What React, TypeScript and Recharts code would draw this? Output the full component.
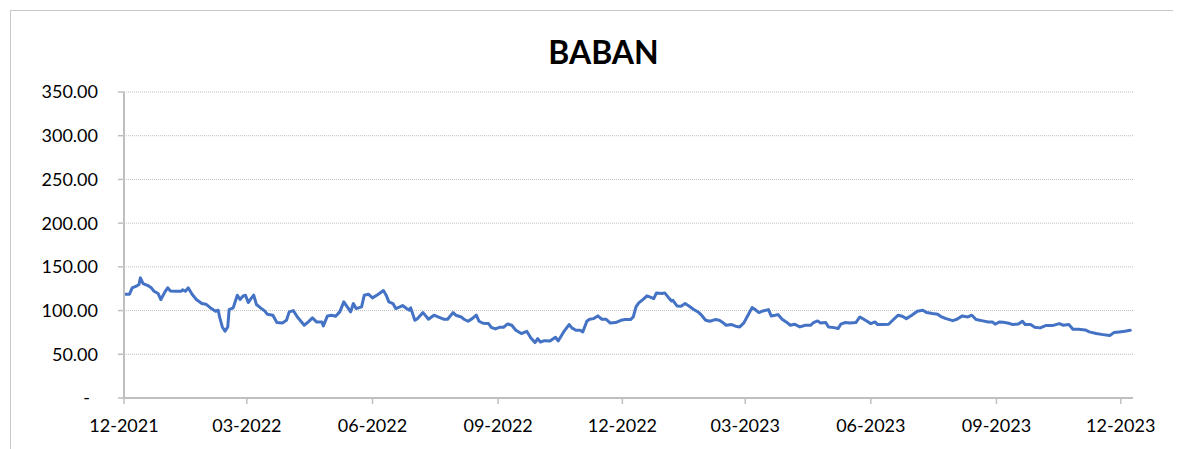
import React from "react";
import { LineChart, Line, XAxis, YAxis, CartesianGrid } from "recharts";

const TITLE = "BABAN";

const dates: string[] = [
  "2021-12-01","2021-12-05","2021-12-07","2021-12-10","2021-12-12","2021-12-13","2021-12-15","2021-12-19","2021-12-21","2021-12-23",
  "2021-12-26","2021-12-28","2021-12-31","2022-01-02","2022-01-04","2022-01-08","2022-01-12","2022-01-13","2022-01-15","2022-01-17",
  "2022-01-20","2022-01-23","2022-01-27","2022-01-30","2022-02-03","2022-02-06","2022-02-08","2022-02-09","2022-02-11","2022-02-13",
  "2022-02-15","2022-02-16","2022-02-19","2022-02-20","2022-02-22","2022-02-24","2022-02-26","2022-02-28","2022-03-02","2022-03-04",
  "2022-03-06","2022-03-08","2022-03-11","2022-03-14","2022-03-16","2022-03-20","2022-03-23","2022-03-27","2022-03-30","2022-04-01",
  "2022-04-04","2022-04-07","2022-04-12","2022-04-15","2022-04-18","2022-04-21","2022-04-25","2022-04-26","2022-04-29","2022-05-02",
  "2022-05-05","2022-05-08","2022-05-11","2022-05-14","2022-05-16","2022-05-18","2022-05-20","2022-05-24","2022-05-26","2022-05-29",
  "2022-06-01","2022-06-05","2022-06-09","2022-06-11","2022-06-13","2022-06-16","2022-06-18","2022-06-21","2022-06-23","2022-06-26",
  "2022-06-28","2022-06-29","2022-07-02","2022-07-04","2022-07-08","2022-07-10","2022-07-12","2022-07-16","2022-07-19","2022-07-23",
  "2022-07-26","2022-07-30","2022-08-01","2022-08-05","2022-08-07","2022-08-10","2022-08-13","2022-08-16","2022-08-18","2022-08-21",
  "2022-08-25","2022-08-27","2022-08-30","2022-09-02","2022-09-05","2022-09-08","2022-09-11","2022-09-14","2022-09-18","2022-09-22",
  "2022-09-25","2022-09-28","2022-09-30","2022-10-02","2022-10-05","2022-10-09","2022-10-13","2022-10-15","2022-10-19","2022-10-23",
  "2022-10-25","2022-10-28","2022-10-31","2022-11-02","2022-11-05","2022-11-07","2022-11-10","2022-11-13","2022-11-16","2022-11-19",
  "2022-11-22","2022-11-26","2022-11-30","2022-12-03","2022-12-07","2022-12-09","2022-12-11","2022-12-13","2022-12-16","2022-12-19",
  "2022-12-21","2022-12-24","2022-12-26","2022-12-30","2023-01-01","2023-01-04","2023-01-06","2023-01-07","2023-01-10","2023-01-13",
  "2023-01-16","2023-01-19","2023-01-22","2023-01-26","2023-01-28","2023-01-31","2023-02-03","2023-02-07","2023-02-10","2023-02-12",
  "2023-02-15","2023-02-19","2023-02-22","2023-02-25","2023-02-28","2023-03-03","2023-03-06","2023-03-08","2023-03-11","2023-03-14",
  "2023-03-18","2023-03-20","2023-03-23","2023-03-25","2023-03-28","2023-03-31","2023-04-03","2023-04-06","2023-04-10","2023-04-14",
  "2023-04-18","2023-04-20","2023-04-23","2023-04-25","2023-04-29","2023-05-01","2023-05-05","2023-05-08","2023-05-10","2023-05-13",
  "2023-05-17","2023-05-21","2023-05-24","2023-05-28","2023-06-01","2023-06-04","2023-06-06","2023-06-10","2023-06-14","2023-06-17",
  "2023-06-21","2023-06-24","2023-06-27","2023-07-01","2023-07-05","2023-07-09","2023-07-12","2023-07-16","2023-07-20","2023-07-22",
  "2023-07-26","2023-07-31","2023-08-03","2023-08-07","2023-08-11","2023-08-14","2023-08-17","2023-08-22","2023-08-26","2023-08-29",
  "2023-08-31","2023-09-03","2023-09-06","2023-09-10","2023-09-13","2023-09-17","2023-09-20","2023-09-22","2023-09-26","2023-09-29",
  "2023-10-03","2023-10-07","2023-10-12","2023-10-17","2023-10-20","2023-10-24","2023-10-27","2023-10-31","2023-11-05","2023-11-08",
  "2023-11-13","2023-11-18","2023-11-23","2023-11-26","2023-11-30","2023-12-04","2023-12-08",
];

const prices: number[] = [
  118.7,118.7,126,127.9,129.8,137.4,130.9,128.2,126,122.1,
  119.5,112.6,121.4,126,122.5,122.1,122.1,123.7,122.1,126,
  118.3,112.6,108,107.3,102.3,99.2,100.4,92.7,81.3,76.3,
  81.3,101.1,103.1,108,117.6,112.6,116.4,117.6,109.2,113.7,
  117.6,106.9,103.1,99.6,95.8,94.7,86.3,85.9,88.9,98.5,
  100,92.7,83.2,87,91.6,87,87,82.4,93.9,94.7,
  93.5,98.5,109.9,103.1,98.5,108,102.3,104.2,117.6,118.7,
  114.5,118.3,122.9,117.6,109.9,108,102.3,104.2,105.7,102.3,
  100.4,103.1,88.9,90.8,97.7,93.9,90.1,94.7,92.7,90.1,
  90.1,97.7,94.7,92.7,90.1,87.8,90.8,94.7,87.8,85.5,
  85.1,80.9,79,80.9,80.9,84.7,83.2,77.5,73.7,76.3,
  68.7,63.4,67.9,64.1,65.6,65.3,69.5,65.3,75.6,84,
  80.2,77.5,77.5,75.6,87.8,90.1,90.8,93.9,90.1,90.1,
  85.9,86.3,88.9,89.7,89.7,92.7,104.2,108.8,112.6,116.8,
  115.6,113.7,120.2,119.5,120.2,114.5,111.1,111.8,105.3,105,
  108,105,101.5,97.7,94.7,88.9,87.8,89.7,88.9,87,
  83.2,84,82.1,81.3,85.9,94.7,103.4,101.5,97.7,99.6,
  101.1,93.9,94.7,95.4,90.1,87,83.2,84.4,81.3,83.2,
  83.2,86.3,88.2,85.9,86.3,81.3,80.5,79.4,84.4,86.3,
  85.9,86.3,92.7,88.9,85.1,87,84,84,84.4,88.9,
  94.7,93.5,90.8,94.7,99.2,100.4,97.7,96.6,95.8,93.5,
  90.8,88.5,90.1,93.9,92.7,94.7,89.7,88.2,87,87,
  84.4,87,86.6,85.5,84,84.7,87.8,84,84,80.9,
  80.2,82.8,82.8,85.1,83.2,84,78.6,78.6,77.9,75.6,
  73.7,72.5,71.4,74.8,75.6,76.3,77.5,
];

const xTickDates: string[] = [
  "2021-12-01","2022-03-01","2022-06-01","2022-09-01","2022-12-01",
  "2023-03-01","2023-06-01","2023-09-01","2023-12-01",
];
const xDomainDates: string[] = ["2021-12-01", "2023-12-10"];
const yTicks: number[] = [0, 50, 100, 150, 200, 250, 300, 350];

const toTs = (s: string) => Date.parse(s + "T00:00:00Z");

const data = dates.map((d, i) => ({ t: toTs(d), v: prices[i] }));

const fmtDate = (ts: number) => {
  const d = new Date(ts);
  const m = String(d.getUTCMonth() + 1).padStart(2, "0");
  return `${m}-${d.getUTCFullYear()}`;
};

const FONT = "Lato, 'Open Sans', sans-serif";

const YTick = (props: any) => {
  const { x, y, payload } = props;
  const val = payload.value as number;
  const label = val === 0 ? "-" : val.toFixed(2);
  return (
    <text
      x={val === 0 ? x - 8 : x}
      y={y}
      dy="0.355em"
      textAnchor="end"
      fill="#000"
      fontSize={18}
      fontFamily={FONT}
    >
      {label}
    </text>
  );
};

export default function App() {
  return (
    <div style={{ position: "relative", width: 1173, height: 441, overflow: "hidden" }}>
      <style>{`html,body{overflow:hidden;}`}</style>
      <div
        style={{
          position: "absolute",
          left: 2,
          top: 2,
          width: 1171,
          height: 439,
          borderLeft: "1px solid #c9c9c9",
          borderTop: "1px solid #c9c9c9",
          boxSizing: "border-box",
        }}
      />
      <div
        style={{
          position: "absolute",
          left: 395.5,
          top: 23.5,
          width: 400,
          textAlign: "center",
          fontFamily: FONT,
          fontWeight: 700,
          fontSize: 32,
          lineHeight: "normal",
          color: "#000",
        }}
      >
        {TITLE}
      </div>
      <div style={{ position: "absolute", left: 0, top: 0 }}>
        <LineChart
          width={1173}
          height={433}
          data={data}
          margin={{ top: 84, right: 48, bottom: 3, left: 56 }}
        >
          <CartesianGrid
            vertical={false}
            stroke="#bfbfbf"
            strokeDasharray="1 1"
          />
          <XAxis
            dataKey="t"
            type="number"
            scale="time"
            domain={[toTs(xDomainDates[0]), toTs(xDomainDates[1])]}
            ticks={xTickDates.map(toTs)}
            tickFormatter={fmtDate}
            height={40}
            tickSize={6}
            tickMargin={15}
            axisLine={{ stroke: "#bfbfbf", strokeWidth: 2 }}
            tickLine={{ stroke: "#bfbfbf", strokeWidth: 1.5 }}
            tick={{ fill: "#000", fontSize: 18, fontFamily: FONT }}
            interval={0}
            allowDataOverflow
          />
          <YAxis
            type="number"
            domain={[0, 350]}
            ticks={yTicks}
            width={60}
            tickSize={6}
            tickMargin={20}
            axisLine={{ stroke: "#bfbfbf", strokeWidth: 2 }}
            tickLine={{ stroke: "#bfbfbf", strokeWidth: 1.5 }}
            tick={<YTick />}
            interval={0}
          />
          <Line
            type="linear"
            dataKey="v"
            stroke="#4472C4"
            strokeWidth={3}
            dot={false}
            isAnimationActive={false}
            strokeLinejoin="round"
            strokeLinecap="round"
          />
        </LineChart>
      </div>
    </div>
  );
}
